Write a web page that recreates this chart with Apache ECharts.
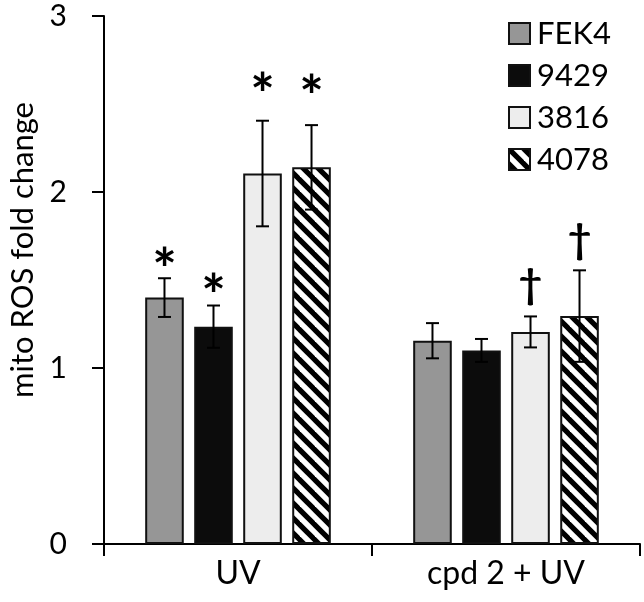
<!DOCTYPE html>
<html>
<head>
<meta charset="utf-8">
<script src="https://cdn.jsdelivr.net/npm/echarts@6/dist/echarts.min.js"></script>
<style>html,body{margin:0;padding:0;background:#fff}#c{width:644px;height:602px}</style>
</head>
<body>
<div id="c"></div>
<script>
// ---- data ----
const categories = ['UV', 'cpd 2 + UV'];
const seriesNames = ['FEK4', '9429', '3816', '4078'];
const fek4 = [1.40, 1.155];
const v9429 = [1.235, 1.10];
const v3816 = [2.105, 1.205];
const v4078 = [2.14, 1.295];
const errFek4 = [0.11, 0.10];
const err9429 = [0.12, 0.065];
const err3816 = [0.30, 0.088];
const err4078 = [0.24, 0.26];
const marksUV = ['*', '*', '*', '*'];
const marksCpd = ['', '', '†', '†'];
const markYUV = [1.625, 1.48, 2.62, 2.61];
const markYCpd = [0, 0, 1.47, 1.73];
const yTicks = [0, 1, 2, 3];

// ---- hatch pattern ----
function hatch() {
  const s = 15;
  const c = document.createElement('canvas');
  c.width = s; c.height = s;
  const g = c.getContext('2d');
  g.fillStyle = '#fff'; g.fillRect(0, 0, s, s);
  g.strokeStyle = '#000'; g.lineWidth = 5.2;
  for (let k = -2; k <= 2; k++) {
    g.beginPath();
    g.moveTo(k * s - s, -s);
    g.lineTo(k * s + 2 * s, 2 * s);
    g.stroke();
  }
  return { image: c, repeat: 'repeat' };
}

const values = [fek4, v9429, v3816, v4078];
const errs = [errFek4, err9429, err3816, err4078];
const fills = ['#969696', '#0c0c0c', '#ededed', hatch()];
const FONT = 'Lato';
const BW = 0.144, GAP = 0.27;
const STAR_SIZE = 58, DAGGER_SIZE = 41;

const errData = [];
const markData = [];
for (let s = 0; s < 4; s++) {
  for (let c = 0; c < 2; c++) {
    errData.push([c, s, values[s][c] - errs[s][c], values[s][c] + errs[s][c]]);
  }
  markData.push([0, s, markYUV[s], marksUV[s]]);
  if (marksCpd[s]) markData.push([1, s, markYCpd[s], marksCpd[s]]);
}

function xOffset(api, s) {
  const band = api.size([1, 0])[0];
  const bw = band * BW;
  const total = 4 * bw + 3 * GAP * bw;
  return -total / 2 + bw / 2 + s * (1 + GAP) * bw;
}

const series = seriesNames.map((n, i) => ({
  name: n,
  type: 'bar',
  data: values[i],
  barWidth: (BW * 100) + '%',
  barGap: (GAP * 100) + '%',
  itemStyle: { color: fills[i], borderColor: '#111', borderWidth: 2 },
  emphasis: { disabled: true },
  z: 2
}));

series.push({
  type: 'custom',
  data: errData,
  z: 5,
  renderItem: function (params, api) {
    const c = api.value(0), s = api.value(1);
    const lo = api.coord([c, api.value(2)]);
    const hi = api.coord([c, api.value(3)]);
    const x = lo[0] + xOffset(api, s);
    const hw = 6.5;
    const st = { stroke: '#000', lineWidth: 2, fill: null };
    return {
      type: 'group',
      children: [
        { type: 'line', shape: { x1: x, y1: lo[1], x2: x, y2: hi[1] }, style: st },
        { type: 'line', shape: { x1: x - hw, y1: lo[1], x2: x + hw, y2: lo[1] }, style: st },
        { type: 'line', shape: { x1: x - hw, y1: hi[1], x2: x + hw, y2: hi[1] }, style: st }
      ]
    };
  }
});

series.push({
  type: 'custom',
  data: markData,
  z: 6,
  renderItem: function (params, api) {
    const c = api.value(0), s = api.value(1);
    const p = api.coord([c, api.value(2)]);
    const t = markData[params.dataIndex][3];
    const isStar = t === '*';
    return {
      type: 'text',
      x: p[0] + xOffset(api, s),
      y: p[1] + (isStar ? 0.23 * STAR_SIZE : 0),
      style: {
        text: t,
        fill: '#000',
        font: 'bold ' + (isStar ? STAR_SIZE : DAGGER_SIZE) + 'px ' + FONT,
        textAlign: 'center',
        textVerticalAlign: 'middle'
      }
    };
  }
});

const chart = echarts.init(document.getElementById('c'), null, { renderer: 'canvas' });
chart.setOption({
  animation: false,
  backgroundColor: '#fff',
  grid: { left: 104, right: 4, top: 16, bottom: 58, containLabel: false },
  legend: {
    data: seriesNames,
    orient: 'vertical',
    left: 503,
    top: 13,
    icon: 'rect',
    itemWidth: 21,
    itemHeight: 21,
    itemGap: 11,
    selectedMode: false,
    textStyle: { fontFamily: FONT, fontSize: 31, color: '#000', lineHeight: 30, padding: [0, 0, 0, 2] }
  },
  xAxis: {
    type: 'category',
    data: categories,
    axisLine: { lineStyle: { color: '#000', width: 2 } },
    axisTick: { show: true, length: 12, lineStyle: { color: '#000', width: 2 } },
    axisLabel: { fontFamily: FONT, fontSize: 32, color: '#000', margin: 14 },
    splitLine: { show: false }
  },
  yAxis: {
    type: 'value',
    min: yTicks[0],
    max: yTicks[yTicks.length - 1],
    interval: 1,
    axisLine: { show: true, lineStyle: { color: '#000', width: 2 } },
    axisTick: { show: true, length: 12, lineStyle: { color: '#000', width: 2 } },
    axisLabel: { fontFamily: FONT, fontSize: 30, color: '#000', margin: 37 },
    splitLine: { show: false }
  },
  graphic: [{
    type: 'text',
    x: 23,
    y: 250,
    rotation: Math.PI / 2,
    style: {
      text: 'mito ROS fold change',
      font: '31px ' + FONT,
      fill: '#000',
      textAlign: 'center',
      textVerticalAlign: 'middle'
    }
  }],
  series: series
});
</script>
</body>
</html>
